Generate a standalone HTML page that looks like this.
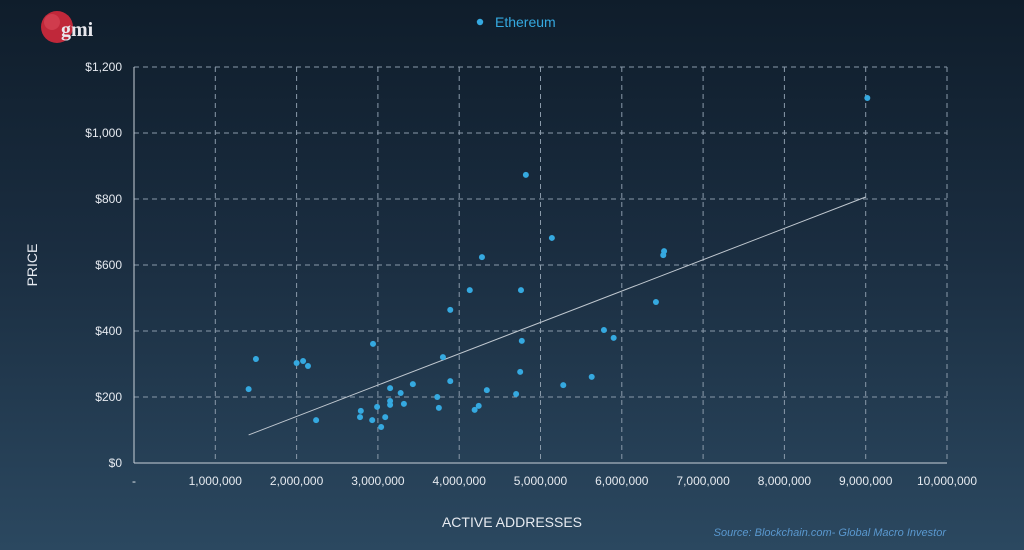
<!DOCTYPE html>
<html><head><meta charset="utf-8">
<style>
html,body{margin:0;padding:0;}
body{width:1024px;height:550px;overflow:hidden;background:linear-gradient(180deg,#0f1d2b 0%,#1a2d40 45%,#2b4860 100%);font-family:"Liberation Sans",sans-serif;}
svg{display:block}
</style></head>
<body>
<svg id="chart" width="1024" height="550" xmlns="http://www.w3.org/2000/svg">
  <g>
    <circle cx="57" cy="27" r="16" fill="#c0283a"/>
    <circle cx="52" cy="22" r="8" fill="#e0505f" opacity="0.5"/>
    <text x="61" y="36" font-family="Liberation Serif,serif" font-size="20" font-weight="bold" fill="#e8e8ee">gmi</text>
  </g>
  <g>
    <circle cx="480" cy="22" r="3.2" fill="#35a9e0"/>
    <text x="495" y="27" font-size="14" fill="#35a9e0">Ethereum</text>
  </g>
  <g id="grid"></g>
  <g id="axes"></g>
  <g id="marks"></g>
  <text x="37" y="265" transform="rotate(-90 37 265)" text-anchor="middle" font-size="14" fill="#e6eaf0">PRICE</text>
  <text x="512" y="527" text-anchor="middle" font-size="14" fill="#e6eaf0">ACTIVE ADDRESSES</text>
  <text x="946" y="536" text-anchor="end" font-size="11" font-style="italic" fill="#5a98cf">Source: Blockchain.com- Global Macro Investor</text>
</svg>
<script>
const xValues=[1.41,1.50,2.00,2.08,2.14,2.24,2.78,2.79,2.93,2.94,2.99,3.04,3.09,3.15,3.15,3.15,3.28,3.32,3.43,3.73,3.75,3.80,3.89,3.89,4.13,4.19,4.24,4.28,4.34,4.70,4.75,4.76,4.77,4.82,5.14,5.28,5.63,5.78,5.90,6.42,6.51,6.52,9.02];
const yValues=[224,315,303,309,294,130,139,158,130,361,170,109,139,176,188,227,212,179,239,200,167,321,464,248,524,161,173,624,221,209,276,524,370,873,682,236,261,403,379,488,630,642,1106];
const trendX=[1.41,9.0];
const trendY=[85,806];
const xTicks=[0,1,2,3,4,5,6,7,8,9,10];
const xTickLabels=["-","1,000,000","2,000,000","3,000,000","4,000,000","5,000,000","6,000,000","7,000,000","8,000,000","9,000,000","10,000,000"];
const yTicks=[0,200,400,600,800,1000,1200];
const yTickLabels=["$0","$200","$400","$600","$800","$1,000","$1,200"];

const X0=134,X1=947,Y0=463,Y1=67;
const sx=v=>X0+(v-0)/(10-0)*(X1-X0);
const sy=v=>Y0-(v/1200)*(Y0-Y1);
const NS="http://www.w3.org/2000/svg";
function mk(tag,attrs,parent){const e=document.createElementNS(NS,tag);for(const k in attrs)e.setAttribute(k,attrs[k]);parent.appendChild(e);return e;}
const grid=document.getElementById('grid'),axes=document.getElementById('axes'),marks=document.getElementById('marks');
yTicks.forEach((t,i)=>{
  if(t>0){const l=mk('line',{x1:X0,x2:X1,y1:sy(t),y2:sy(t),stroke:'#8a9aaa','stroke-width':1,'stroke-dasharray':'5,4'},grid);
  
  }
  const tx=mk('text',{x:122,y:sy(t)+4,'text-anchor':'end','font-size':12,fill:'#e6eaf0'},axes);
  tx.textContent=yTickLabels[i];
  
  
});
xTicks.forEach((t,i)=>{
  if(t>0){const l=mk('line',{x1:sx(t),x2:sx(t),y1:Y1,y2:Y0,stroke:'#8a9aaa','stroke-width':1,'stroke-dasharray':'5,4'},grid);
  
  }
  const tx=mk('text',{x:sx(t),y:485,'text-anchor':'middle','font-size':12,fill:'#e6eaf0'},axes);
  tx.textContent=xTickLabels[i];
  
  
});
const ya=mk('line',{x1:X0,x2:X0,y1:Y1,y2:Y0,stroke:'#c8d0d8','stroke-width':1},axes);


const xa=mk('line',{x1:X0,x2:X1,y1:Y0,y2:Y0,stroke:'#c8d0d8','stroke-width':1},axes);


const tl=mk('line',{x1:sx(trendX[0]),y1:sy(trendY[0]),x2:sx(trendX[1]),y2:sy(trendY[1]),stroke:'#c0c8d0','stroke-width':1},marks);


xValues.forEach((x,i)=>{
  const c=mk('circle',{cx:sx(x),cy:sy(yValues[i]),r:3,fill:'#35a9e0'},marks);
  
  
});
</script>
</body></html>
